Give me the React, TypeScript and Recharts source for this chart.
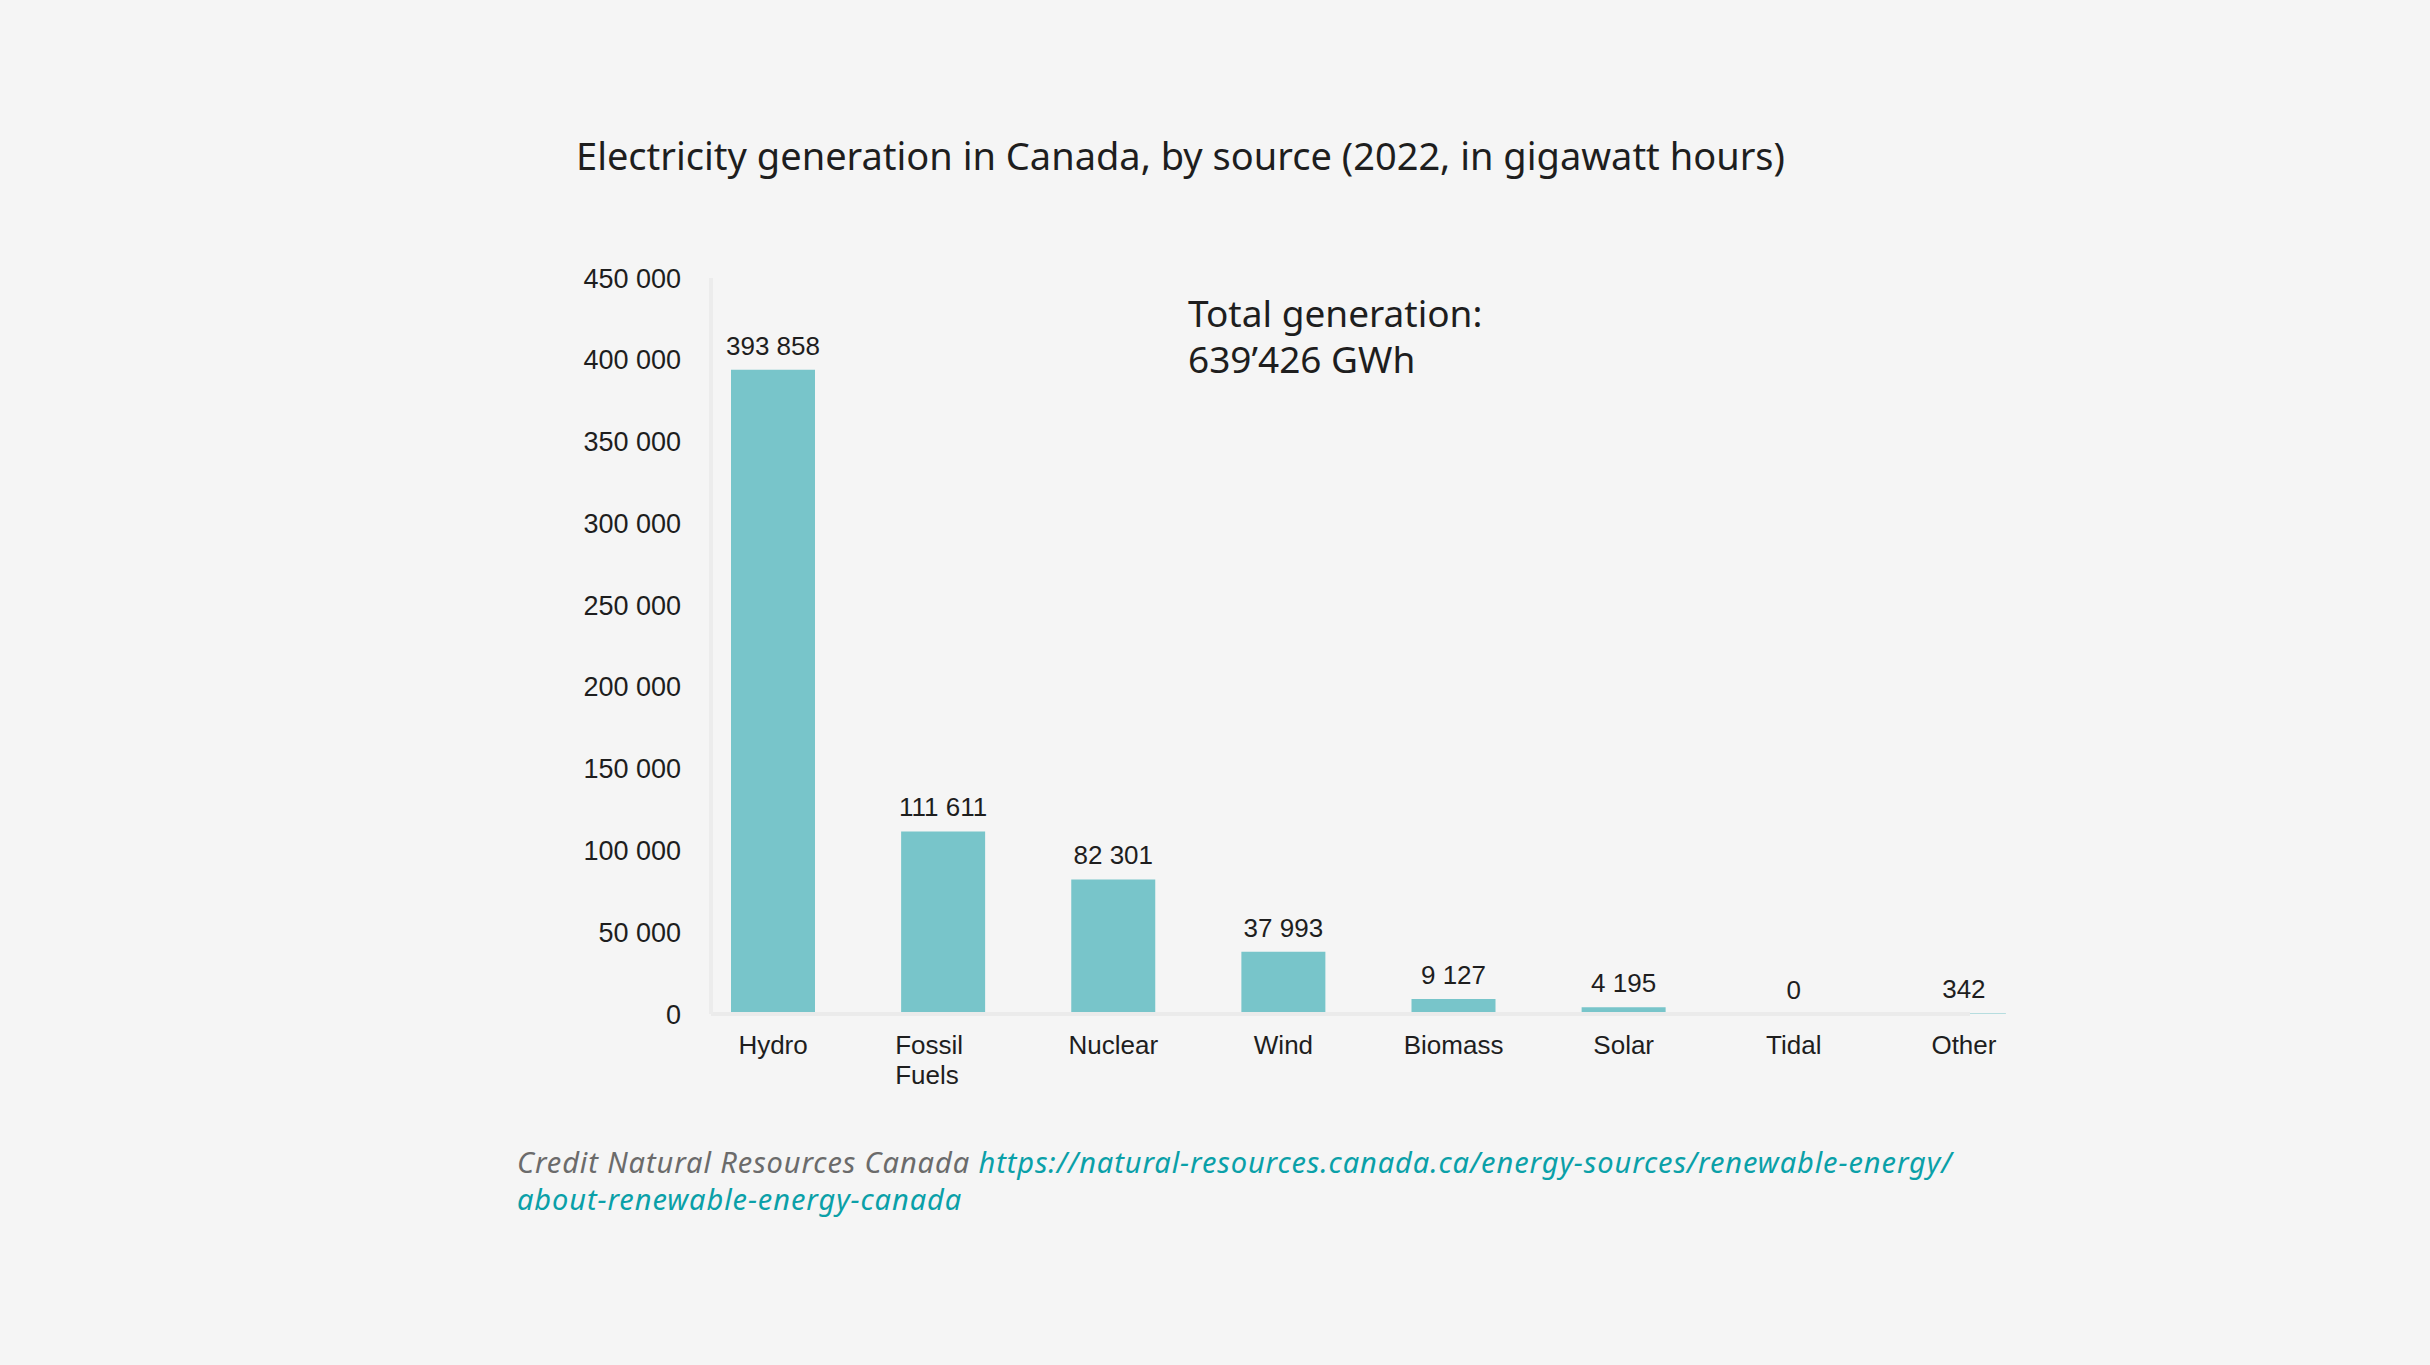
import React from "react";
import { BarChart, Bar, XAxis, YAxis, LabelList } from "recharts";

// 2022 generation by source, GWh
const SOURCES = ["Hydro", "Fossil Fuels", "Nuclear", "Wind", "Biomass", "Solar", "Tidal", "Other"];
const GENERATION = [393858, 111611, 82301, 37993, 9127, 4195, 0, 342];
const Y_TICKS = [0, 50000, 100000, 150000, 200000, 250000, 300000, 350000, 400000, 450000];

const BG = "#f5f5f5";
const BAR = "#78c5ca";
const INK = "#1e1e1e";
const NUM_FONT = "'Liberation Sans', Arial, sans-serif";
const TEXT_FONT = "'Noto Sans', 'Open Sans', sans-serif";

const spaced = (v: number) => String(v).replace(/\B(?=(\d{3})+(?!\d))/g, " ");

const chartData = SOURCES.map((source, i) => ({ source, gwh: GENERATION[i] }));

function SourceTick({ x, y, payload }: { x?: number; y?: number; payload?: { value: string } }) {
  const words = String(payload?.value ?? "").split(" ");
  const multi = words.length > 1;
  const tx = multi ? (x ?? 0) - 48 : x ?? 0;
  return (
    <text
      x={tx}
      y={y}
      textAnchor={multi ? "start" : "middle"}
      fontSize={26}
      fontFamily={NUM_FONT}
      fill={INK}
    >
      {words.map((w, i) => (
        <tspan key={w} x={tx} dy={i === 0 ? 38 : 30}>
          {w}
        </tspan>
      ))}
    </text>
  );
}

// value label above each bar; drawn for zero-height bars too
function ValueLabel(props: { x?: number; y?: number; width?: number; value?: number }) {
  const { x = 0, y = 0, width = 0, value = 0 } = props;
  return (
    <text
      x={x + width / 2}
      y={y - 15}
      textAnchor="middle"
      fontSize={26}
      fontFamily={NUM_FONT}
      fill={INK}
    >
      {spaced(value)}
    </text>
  );
}

export default function App() {
  return (
    <div
      style={{
        position: "absolute",
        left: 0,
        top: 0,
        width: 2430,
        height: 1365,
        background: BG,
        overflow: "hidden",
      }}
    >
      <div
        style={{
          position: "absolute",
          left: 576,
          top: 136,
          fontFamily: TEXT_FONT,
          fontSize: 38,
          lineHeight: "38px",
          color: INK,
          whiteSpace: "nowrap",
        }}
      >
        Electricity generation in Canada, by source (2022, in gigawatt hours)
      </div>

      <div
        style={{
          position: "absolute",
          left: 1188,
          top: 290,
          fontFamily: TEXT_FONT,
          fontSize: 37,
          lineHeight: "46px",
          color: INK,
          whiteSpace: "nowrap",
        }}
      >
        Total generation:
        <br />
        639’426 GWh
      </div>

      <div style={{ position: "absolute", left: 0, top: 0 }}>
        <BarChart
          width={2430}
          height={1365}
          data={chartData}
          margin={{ top: 278, right: 460, bottom: 291, left: 561 }}
        >
          <XAxis
            dataKey="source"
            interval={0}
            height={60}
            padding={{ left: -23, right: -79 }}
            axisLine={{ stroke: "#ebebeb", strokeWidth: 4 }}
            tickLine={false}
            tickSize={0}
            tick={<SourceTick />}
          />
          <YAxis
            width={150}
            domain={[0, 450000]}
            ticks={Y_TICKS}
            interval={0}
            tickFormatter={spaced}
            axisLine={{ stroke: "#ececec", strokeWidth: 4 }}
            tickLine={false}
            tickSize={0}
            tickMargin={30}
            tick={{ fontSize: 27, fill: INK, fontFamily: NUM_FONT }}
          />
          <Bar
            dataKey="gwh"
            fill={BAR}
            barSize={84}
            minPointSize={(v: number) => (v === 0 ? 0.5 : 0)}
            isAnimationActive={false}
          >
            <LabelList dataKey="gwh" content={<ValueLabel />} />
          </Bar>
        </BarChart>
      </div>

      <div
        style={{
          position: "absolute",
          left: 517,
          top: 1143,
          fontFamily: TEXT_FONT,
          fontStyle: "italic",
          fontSize: 29,
          letterSpacing: "0.9px",
          lineHeight: "37px",
          color: "#6b6b6b",
          whiteSpace: "nowrap",
        }}
      >
        Credit Natural Resources Canada{" "}
        <span style={{ color: "#0aa0a8" }}>
          https://natural-resources.canada.ca/energy-sources/renewable-energy/
          <br />
          about-renewable-energy-canada
        </span>
      </div>
    </div>
  );
}
